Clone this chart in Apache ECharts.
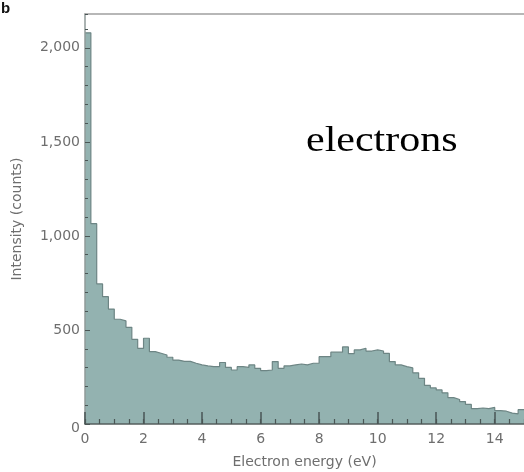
<!DOCTYPE html>
<html>
<head>
<meta charset="utf-8">
<script src="https://cdn.jsdelivr.net/npm/echarts@6/dist/echarts.min.js"></script>
<style>
  html, body { margin: 0; padding: 0; background: #ffffff; }
  #chart { width: 524px; height: 472px; }
</style>
</head>
<body>
<div id="chart"></div>
<script>
// Electron energy histogram: counts per 0.2 eV bin, starting at 0 eV
const binWidth = 0.2;
const counts = [
  2080, 1065, 745, 677, 611, 557, 548, 514, 450, 402,
  456, 385, 376, 367, 355, 340, 333, 333, 323, 314,
  309, 305, 305, 327, 301, 287, 305, 301, 314, 296,
  284, 287, 332, 296, 309, 314, 319, 314, 323, 323,
  358, 358, 382, 382, 410, 374, 394, 403, 388, 394,
  388, 376, 332, 314, 305, 298, 272, 243, 205, 192,
  181, 166, 140, 130, 119, 104, 82, 85, 82, 88,
  71, 68, 58, 54, 76
];
const xRange = [0, 15];
const yRange = [0, 2180];
const xLabelStep = 2;
const xMinorStep = 0.5;
const yLabelStep = 500;
const yMinorStep = 100;

// Step outline: one point at every bin's left edge, plus the closing right edge
const stepPoints = counts.map((c, i) => [+(i * binWidth).toFixed(2), c]);
stepPoints.push([+(counts.length * binWidth).toFixed(2), counts[counts.length - 1]]);

const labelFont = 'DejaVu Sans';
const labelColor = '#6e6e6e';
const tickColor = '#4a5655';
const plotRect = { left: 85, right: 0, top: 14, bottom: 48, containLabel: false, outerBoundsMode: 'none' };

const chart = echarts.init(document.getElementById('chart'), null, { renderer: 'canvas' });

chart.setOption({
  animation: false,
  backgroundColor: '#ffffff',
  // grid 0 holds the data and the labelled axes, grid 1 (same rectangle) the minor ticks
  grid: [Object.assign({}, plotRect), Object.assign({}, plotRect)],
  xAxis: [
    {
      gridIndex: 0, type: 'value', min: xRange[0], max: xRange[1], interval: xLabelStep,
      position: 'bottom', z: 5,
      name: 'Electron energy (eV)', nameLocation: 'middle', nameGap: 31,
      nameTextStyle: { fontFamily: labelFont, fontSize: 14, color: labelColor },
      axisLine: { show: true, lineStyle: { color: '#555f5e', width: 1.5 } },
      axisTick: { show: true, inside: true, length: 12, lineStyle: { color: tickColor, width: 1.5 } },
      axisLabel: {
        showMaxLabel: false, margin: 8,
        fontFamily: labelFont, fontSize: 14, color: labelColor
      },
      splitLine: { show: false }
    },
    {
      // top frame line
      gridIndex: 0, type: 'value', min: xRange[0], max: xRange[1],
      position: 'top', z: 5,
      axisLine: { show: true, onZero: false, lineStyle: { color: '#a0a0a0', width: 1.5 } },
      axisTick: { show: false }, axisLabel: { show: false }, splitLine: { show: false }
    },
    {
      // minor ticks every 0.5 eV
      gridIndex: 1, type: 'value', min: xRange[0], max: xRange[1], interval: xMinorStep,
      position: 'bottom', z: 5,
      axisLine: { show: false },
      axisTick: { show: true, inside: true, length: 5, lineStyle: { color: tickColor, width: 1.2 } },
      axisLabel: { show: false },
      splitLine: { show: false }
    }
  ],
  yAxis: [
    {
      gridIndex: 0, type: 'value', min: yRange[0], max: yRange[1], interval: yLabelStep,
      position: 'left', z: 5,
      name: 'Intensity (counts)', nameLocation: 'middle', nameGap: 61,
      nameTextStyle: { fontFamily: labelFont, fontSize: 14, color: labelColor },
      axisLine: { show: true, lineStyle: { color: '#8f9a99', width: 1.5 } },
      axisTick: { show: true, inside: true, length: 5, lineStyle: { color: tickColor, width: 1 } },
      axisLabel: {
        showMaxLabel: false, margin: 5,
        fontFamily: labelFont, fontSize: 14, color: labelColor,
        formatter: v => v === 0 ? '{z|0}' : v.toLocaleString('en-US'),
        rich: { z: { padding: [8, 0, 0, 0], fontFamily: labelFont, fontSize: 14, color: labelColor } }
      },
      splitLine: { show: false }
    },
    {
      // minor ticks every 100 counts
      gridIndex: 1, type: 'value', min: yRange[0], max: yRange[1], interval: yMinorStep,
      position: 'left', z: 5,
      axisLine: { show: false },
      axisTick: { show: true, inside: true, length: 3, lineStyle: { color: tickColor, width: 1 } },
      axisLabel: { show: false },
      splitLine: { show: false }
    }
  ],
  series: [
    {
      type: 'line',
      xAxisIndex: 0, yAxisIndex: 0,
      step: 'end',
      symbol: 'none',
      data: stepPoints,
      lineStyle: { color: '#6d8584', width: 1.2 },
      areaStyle: { color: '#93b2b0', opacity: 1 },
      z: 2
    }
  ],
  graphic: [
    {
      type: 'text', x: 1, y: 9,
      style: { text: 'b', x: 0, y: 0, font: 'bold 15px "Liberation Sans"', fill: '#111', verticalAlign: 'middle' }
    },
    {
      type: 'text', x: 306, y: 142, scaleX: 1.2,
      style: { text: 'electrons', x: 0, y: 0, font: '35px "Liberation Serif"', fill: '#000', align: 'left', verticalAlign: 'middle' }
    }
  ]
});
</script>
</body>
</html>
